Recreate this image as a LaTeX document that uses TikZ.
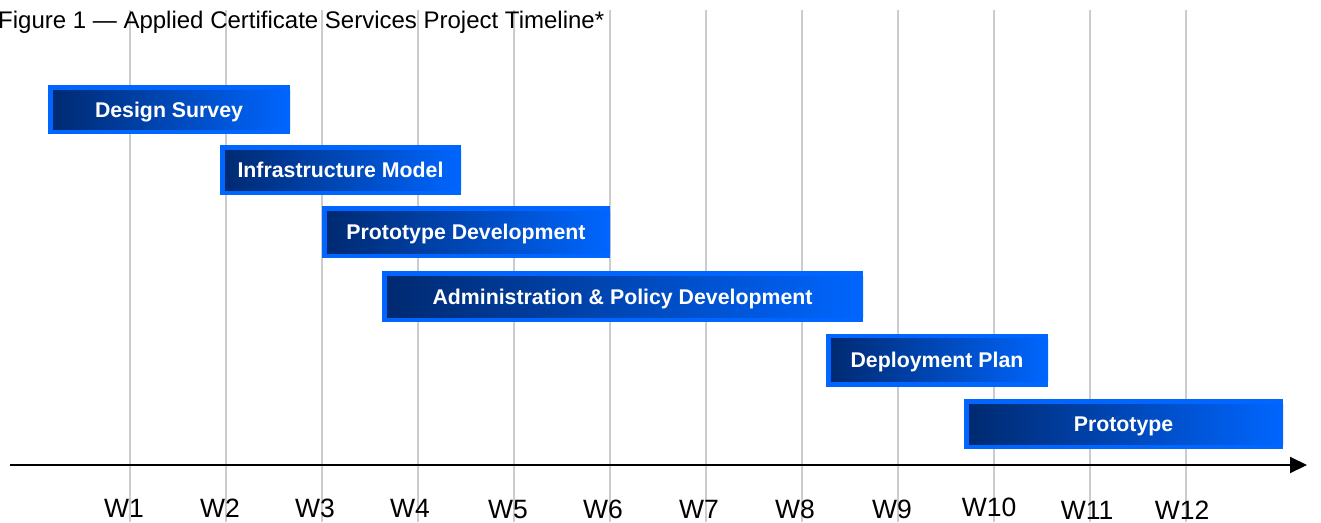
\documentclass[tikz,border=0pt]{standalone}
\usepackage{fontspec}
\setmainfont{Liberation Sans}
\usetikzlibrary{arrows.meta}
\definecolor{barblue}{HTML}{0066FF}
\definecolor{navy}{HTML}{00296F}
\definecolor{gridgray}{HTML}{CCCCCC}
\tikzset{
  bar/.style={fill=barblue, inner sep=0pt, text=white,
    text height=15.4pt, text depth=0pt,
    font=\fontsize{21.3}{24}\selectfont\bfseries,
    path picture={\shade[left color=navy, right color=barblue]
      ([xshift=5pt,yshift=5pt]path picture bounding box.south west) rectangle
      ([yshift=-5pt]path picture bounding box.north east);}},
  wlabel/.style={anchor=base, inner sep=0pt, font=\fontsize{26.5}{30}\selectfont},
  gridline/.style={draw=gridgray, line width=2pt},
  axis/.style={draw=black, line width=2pt, -{Triangle[length=17pt,width=16pt]}}
}
\begin{document}
\begin{tikzpicture}[x=1pt,y=-1pt]
\useasboundingbox (0,0) rectangle (1321,522);
% grid lines
\foreach \i in {0,...,11}{
  \draw[gridline] (130+96*\i,10) -- (130+96*\i,522);
}
% title
\node[anchor=base west, inner sep=0pt, font=\fontsize{24}{28}\selectfont] (title) at (-2,28) {Figure 1 — Applied Certificate Services Project Timeline*};
% axis
\coordinate (axstart) at (10,465);
\coordinate (axend) at (1307,465);
\draw[axis] (axstart) -- (axend);
% bars
\node[bar, minimum width=242pt, minimum height=49pt] (b1) at (169,109.5) {Design Survey};
\node[bar, minimum width=241pt, minimum height=50pt] (b2) at (340.5,170) {Infrastructure Model};
\node[bar, minimum width=288pt, minimum height=52pt] (b3) at (466,232) {Prototype Development};
\node[bar, minimum width=481pt, minimum height=51pt] (b4) at (622.5,296.5) {Administration \& Policy Development};
\node[bar, minimum width=222pt, minimum height=53pt] (b5) at (937,360) {Deployment Plan};
\node[bar, minimum width=319pt, minimum height=50pt] (b6) at (1123.5,424) {Prototype};
% week labels
\node[wlabel] (w1) at (124,517) {W1};
\node[wlabel] (w2) at (220,517) {W2};
\node[wlabel] (w3) at (315,517) {W3};
\node[wlabel] (w4) at (410,517) {W4};
\node[wlabel] (w5) at (508,518) {W5};
\node[wlabel] (w6) at (603,518) {W6};
\node[wlabel] (w7) at (699,518) {W7};
\node[wlabel] (w8) at (795,518) {W8};
\node[wlabel] (w9) at (892,518) {W9};
\node[wlabel] (w10) at (989,516) {W10};
\node[wlabel] (w11) at (1087,519) {W11};
\node[wlabel] (w12) at (1182,519) {W12};
\end{tikzpicture}
\end{document}
